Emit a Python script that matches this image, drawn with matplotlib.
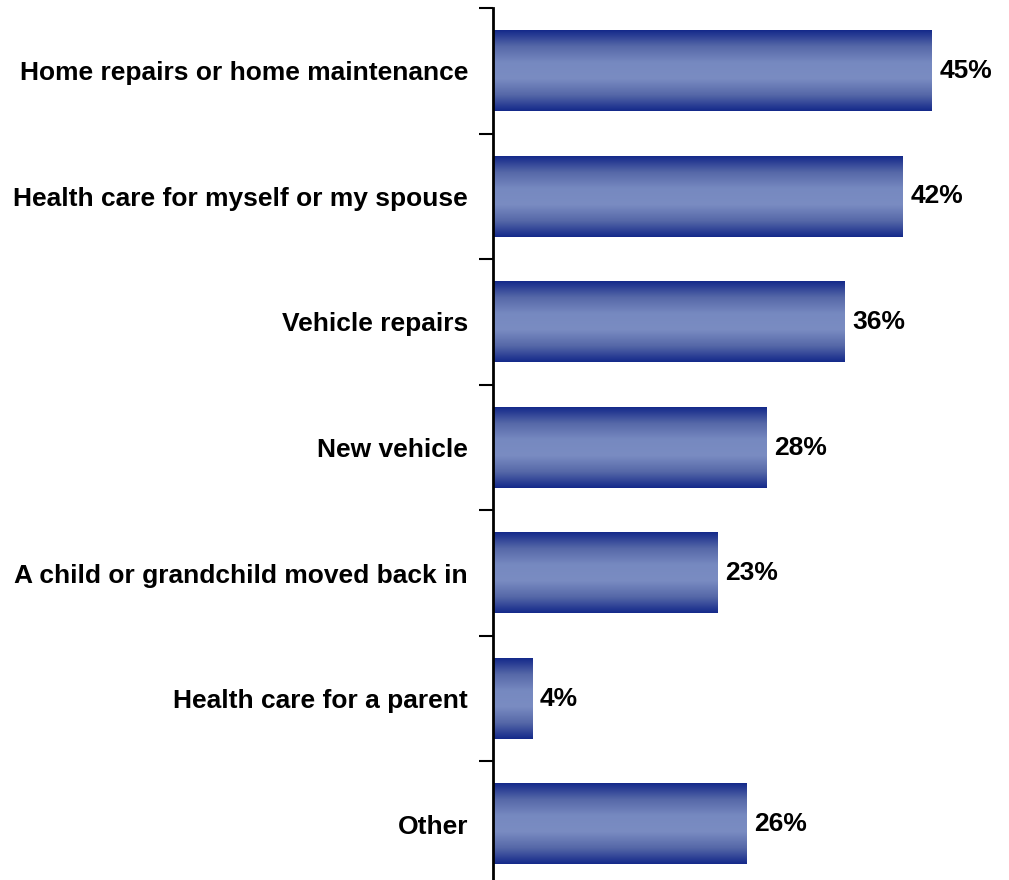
import matplotlib
matplotlib.use("Agg")
import matplotlib.pyplot as plt
import numpy as np
from matplotlib.colors import LinearSegmentedColormap

categories = [
    "Home repairs or home maintenance",
    "Health care for myself or my spouse",
    "Vehicle repairs",
    "New vehicle",
    "A child or grandchild moved back in",
    "Health care for a parent",
    "Other",
]
values = [45, 42, 36, 28, 23, 4, 26]
labels = ["45%", "42%", "36%", "28%", "23%", "4%", "26%"]

plt.rcParams["font.family"] = ["Liberation Sans Narrow", "Liberation Sans", "DejaVu Sans"]

# dark edge -> light middle -> dark edge
grad = LinearSegmentedColormap.from_list(
    "bar", ["#14298a", "#5668a8", "#7689c0", "#7a8cc2", "#5668a8", "#14298a"]
)
shade = np.linspace(0, 1, 256).reshape(-1, 1)

fig = plt.figure(figsize=(10.09, 8.8), dpi=100)
ax = fig.add_axes([493 / 1009, -7 / 880, 1 - 493 / 1009, 879 / 880])

n = len(categories)
bar_h = 0.64
for i, (v, lab) in enumerate(zip(values, labels)):
    y = n - 1 - i
    ax.imshow(shade, cmap=grad, aspect="auto",
              extent=[0, v, y - bar_h / 2, y + bar_h / 2],
              origin="upper", interpolation="bilinear", zorder=2)
    ax.text(v + 0.8, y, lab, va="center", ha="left",
            fontsize=19, fontweight="bold", color="black")

ax.set_xlim(0, 52.9)
ax.set_ylim(-0.5, n - 0.5)

# ticks sit between the categories, labels at the bar centres
ax.set_yticks(np.arange(n + 1) - 0.5)
ax.set_yticklabels([])
ax.set_yticks(np.arange(n), minor=True)
ax.set_yticklabels(categories[::-1], minor=True, fontsize=19, fontweight="bold")
ax.tick_params(axis="y", which="major", length=10, width=1.5, direction="out")
ax.tick_params(axis="y", which="minor", length=0, pad=18)
ax.set_xticks([])

for s in ["top", "right", "bottom"]:
    ax.spines[s].set_visible(False)
ax.spines["left"].set_linewidth(2)

fig.savefig("out.png", dpi=100)
